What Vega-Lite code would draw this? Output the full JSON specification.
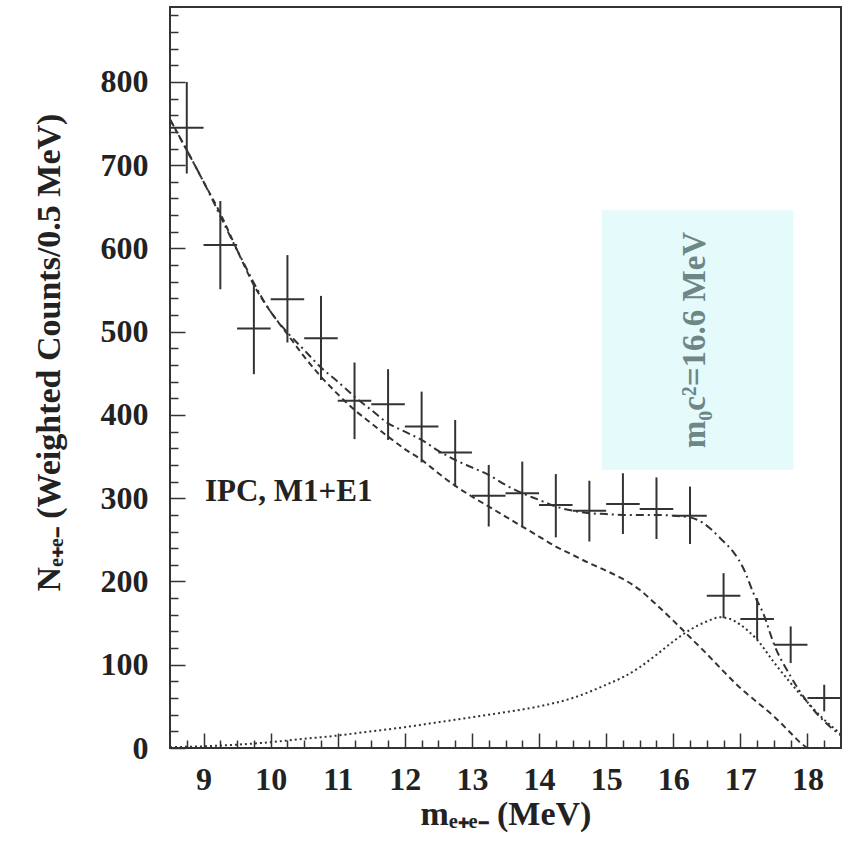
{
  "$schema": "https://vega.github.io/schema/vega-lite/v6.json",
  "width": 671,
  "height": 741,
  "autosize": {"type": "none"},
  "padding": {"left": 170, "top": 7, "right": 9, "bottom": 97},
  "background": "white",
  "config": {
    "view": {"stroke": "#333", "strokeWidth": 2},
    "font": "Liberation Serif",
    "axis": {
      "tickColor": "#333", "tickWidth": 1.5,
      "domain": false, "grid": false, "labelFlush": false,
      "labelFont": "Liberation Serif", "labelFontSize": 32, "labelFontWeight": "bold", "labelColor": "#222",
      "titleFont": "Liberation Serif", "titleFontSize": 34, "titleFontWeight": "bold", "titleColor": "#222"
    },
    "axisX": {"labelPadding": 31, "titlePadding": 2},
    "axisY": {"labelPadding": 37, "titlePadding": 34, "titleY": 345}
  },
  "datasets": {
    "points": [
      {"m": 8.75, "lo_m": 8.5, "hi_m": 9.0, "n": 745, "lo": 690, "hi": 800},
      {"m": 9.25, "lo_m": 9.0, "hi_m": 9.5, "n": 604, "lo": 551, "hi": 657},
      {"m": 9.75, "lo_m": 9.5, "hi_m": 10.0, "n": 504, "lo": 449, "hi": 558},
      {"m": 10.25, "lo_m": 10.0, "hi_m": 10.5, "n": 539, "lo": 487, "hi": 592},
      {"m": 10.75, "lo_m": 10.5, "hi_m": 11.0, "n": 492, "lo": 442, "hi": 543},
      {"m": 11.25, "lo_m": 11.0, "hi_m": 11.5, "n": 417, "lo": 371, "hi": 463},
      {"m": 11.75, "lo_m": 11.5, "hi_m": 12.0, "n": 413, "lo": 370, "hi": 455},
      {"m": 12.25, "lo_m": 12.0, "hi_m": 12.5, "n": 386, "lo": 343, "hi": 428},
      {"m": 12.75, "lo_m": 12.5, "hi_m": 13.0, "n": 355, "lo": 314, "hi": 394},
      {"m": 13.25, "lo_m": 13.0, "hi_m": 13.5, "n": 303, "lo": 266, "hi": 340},
      {"m": 13.75, "lo_m": 13.5, "hi_m": 14.0, "n": 306, "lo": 266, "hi": 344},
      {"m": 14.25, "lo_m": 14.0, "hi_m": 14.5, "n": 292, "lo": 253, "hi": 329},
      {"m": 14.75, "lo_m": 14.5, "hi_m": 15.0, "n": 285, "lo": 248, "hi": 321},
      {"m": 15.25, "lo_m": 15.0, "hi_m": 15.5, "n": 293, "lo": 257, "hi": 330},
      {"m": 15.75, "lo_m": 15.5, "hi_m": 16.0, "n": 287, "lo": 251, "hi": 325},
      {"m": 16.25, "lo_m": 16.0, "hi_m": 16.5, "n": 279, "lo": 245, "hi": 314},
      {"m": 16.75, "lo_m": 16.5, "hi_m": 17.0, "n": 183, "lo": 156, "hi": 210},
      {"m": 17.25, "lo_m": 17.0, "hi_m": 17.5, "n": 155, "lo": 130, "hi": 180},
      {"m": 17.75, "lo_m": 17.5, "hi_m": 18.0, "n": 124, "lo": 102, "hi": 146},
      {"m": 18.25, "lo_m": 18.0, "hi_m": 18.5, "n": 60, "lo": 44, "hi": 76}
    ],
    "curves": [
      {"s": "bg", "m": 8.5, "n": 755}, {"s": "bg", "m": 8.75, "n": 718}, {"s": "bg", "m": 9.0, "n": 680},
      {"s": "bg", "m": 9.25, "n": 642}, {"s": "bg", "m": 9.5, "n": 598}, {"s": "bg", "m": 9.75, "n": 556},
      {"s": "bg", "m": 10.0, "n": 524}, {"s": "bg", "m": 10.25, "n": 497}, {"s": "bg", "m": 10.5, "n": 470},
      {"s": "bg", "m": 10.75, "n": 446}, {"s": "bg", "m": 11.0, "n": 425}, {"s": "bg", "m": 11.25, "n": 406},
      {"s": "bg", "m": 11.5, "n": 390}, {"s": "bg", "m": 11.75, "n": 374}, {"s": "bg", "m": 12.0, "n": 359},
      {"s": "bg", "m": 12.25, "n": 346}, {"s": "bg", "m": 12.5, "n": 330}, {"s": "bg", "m": 12.75, "n": 315},
      {"s": "bg", "m": 13.0, "n": 302}, {"s": "bg", "m": 13.25, "n": 290}, {"s": "bg", "m": 13.5, "n": 278},
      {"s": "bg", "m": 13.75, "n": 266}, {"s": "bg", "m": 14.0, "n": 254}, {"s": "bg", "m": 14.25, "n": 242},
      {"s": "bg", "m": 14.5, "n": 232}, {"s": "bg", "m": 14.75, "n": 222}, {"s": "bg", "m": 15.0, "n": 213},
      {"s": "bg", "m": 15.25, "n": 203}, {"s": "bg", "m": 15.5, "n": 190}, {"s": "bg", "m": 15.75, "n": 172},
      {"s": "bg", "m": 16.0, "n": 153}, {"s": "bg", "m": 16.25, "n": 133}, {"s": "bg", "m": 16.5, "n": 113},
      {"s": "bg", "m": 16.75, "n": 92}, {"s": "bg", "m": 17.0, "n": 72}, {"s": "bg", "m": 17.25, "n": 55},
      {"s": "bg", "m": 17.5, "n": 38}, {"s": "bg", "m": 17.75, "n": 18}, {"s": "bg", "m": 17.9, "n": 6},
      {"s": "bg", "m": 18.0, "n": 0},
      {"s": "sig", "m": 8.5, "n": 1}, {"s": "sig", "m": 9.0, "n": 2}, {"s": "sig", "m": 9.5, "n": 4},
      {"s": "sig", "m": 10.0, "n": 7}, {"s": "sig", "m": 10.5, "n": 11}, {"s": "sig", "m": 11.0, "n": 15},
      {"s": "sig", "m": 11.5, "n": 20}, {"s": "sig", "m": 12.0, "n": 25}, {"s": "sig", "m": 12.5, "n": 31},
      {"s": "sig", "m": 13.0, "n": 37}, {"s": "sig", "m": 13.5, "n": 43}, {"s": "sig", "m": 14.0, "n": 50},
      {"s": "sig", "m": 14.5, "n": 60}, {"s": "sig", "m": 15.0, "n": 76}, {"s": "sig", "m": 15.25, "n": 85},
      {"s": "sig", "m": 15.5, "n": 97}, {"s": "sig", "m": 15.75, "n": 112}, {"s": "sig", "m": 16.0, "n": 128},
      {"s": "sig", "m": 16.25, "n": 142}, {"s": "sig", "m": 16.5, "n": 152}, {"s": "sig", "m": 16.7, "n": 157},
      {"s": "sig", "m": 16.85, "n": 155}, {"s": "sig", "m": 17.0, "n": 148}, {"s": "sig", "m": 17.25, "n": 130},
      {"s": "sig", "m": 17.5, "n": 103}, {"s": "sig", "m": 17.75, "n": 78}, {"s": "sig", "m": 18.0, "n": 55},
      {"s": "sig", "m": 18.25, "n": 34}, {"s": "sig", "m": 18.5, "n": 17},
      {"s": "sum", "m": 8.5, "n": 755}, {"s": "sum", "m": 9.0, "n": 680}, {"s": "sum", "m": 9.5, "n": 598},
      {"s": "sum", "m": 10.0, "n": 524}, {"s": "sum", "m": 10.25, "n": 499}, {"s": "sum", "m": 10.5, "n": 478},
      {"s": "sum", "m": 10.75, "n": 457}, {"s": "sum", "m": 11.0, "n": 440}, {"s": "sum", "m": 11.25, "n": 422},
      {"s": "sum", "m": 11.5, "n": 406}, {"s": "sum", "m": 11.75, "n": 390}, {"s": "sum", "m": 12.0, "n": 380},
      {"s": "sum", "m": 12.25, "n": 370}, {"s": "sum", "m": 12.5, "n": 357}, {"s": "sum", "m": 12.75, "n": 346},
      {"s": "sum", "m": 13.0, "n": 337}, {"s": "sum", "m": 13.25, "n": 328}, {"s": "sum", "m": 13.5, "n": 316},
      {"s": "sum", "m": 13.75, "n": 306}, {"s": "sum", "m": 14.0, "n": 298}, {"s": "sum", "m": 14.25, "n": 290},
      {"s": "sum", "m": 14.5, "n": 285}, {"s": "sum", "m": 14.75, "n": 282}, {"s": "sum", "m": 15.0, "n": 281},
      {"s": "sum", "m": 15.25, "n": 280}, {"s": "sum", "m": 15.5, "n": 280}, {"s": "sum", "m": 15.75, "n": 280},
      {"s": "sum", "m": 16.0, "n": 279}, {"s": "sum", "m": 16.25, "n": 277}, {"s": "sum", "m": 16.45, "n": 270},
      {"s": "sum", "m": 16.6, "n": 260}, {"s": "sum", "m": 16.75, "n": 248}, {"s": "sum", "m": 16.9, "n": 235},
      {"s": "sum", "m": 17.05, "n": 215}, {"s": "sum", "m": 17.2, "n": 185}, {"s": "sum", "m": 17.35, "n": 160},
      {"s": "sum", "m": 17.5, "n": 125}, {"s": "sum", "m": 17.75, "n": 86}, {"s": "sum", "m": 18.0, "n": 55},
      {"s": "sum", "m": 18.25, "n": 32}, {"s": "sum", "m": 18.5, "n": 15}
    ],
    "box": [{"m1": 14.93, "m2": 17.79, "n1": 334, "n2": 646, "mt": 16.33, "nt": 490, "label": "m₀c²=16.6 MeV"}],
    "notes": [{"m": 9.02, "n": 308, "label": "IPC, M1+E1"}]
  },
  "layer": [
    {
      "data": {"name": "box"},
      "mark": {"type": "rect", "color": "#e5fafb"},
      "encoding": {
        "x": {"field": "m1", "type": "quantitative", "scale": {"domain": [8.5, 18.5], "nice": false, "zero": false}, "title": "mₑ₊ₑ₋ (MeV)",
          "axis": {
            "values": [8.75, 9, 9.25, 9.5, 9.75, 10, 10.25, 10.5, 10.75, 11, 11.25, 11.5, 11.75, 12, 12.25, 12.5, 12.75, 13, 13.25, 13.5, 13.75, 14, 14.25, 14.5, 14.75, 15, 15.25, 15.5, 15.75, 16, 16.25, 16.5, 16.75, 17, 17.25, 17.5, 17.75, 18, 18.25],
            "labelExpr": "datum.value % 1 === 0 ? format(datum.value, 'd') : ''",
            "tickSize": {"condition": {"test": "datum.value % 1 === 0", "value": -15}, "value": -8}
          }},
        "x2": {"field": "m2"},
        "y": {"field": "n1", "type": "quantitative", "scale": {"domain": [0, 890], "nice": false}, "title": "Nₑ₊ₑ₋ (Weighted Counts/0.5 MeV)",
          "axis": {
            "values": [0, 20, 40, 60, 80, 100, 120, 140, 160, 180, 200, 220, 240, 260, 280, 300, 320, 340, 360, 380, 400, 420, 440, 460, 480, 500, 520, 540, 560, 580, 600, 620, 640, 660, 680, 700, 720, 740, 760, 780, 800, 820, 840, 860, 880],
            "labelExpr": "datum.value % 100 === 0 ? format(datum.value, 'd') : ''",
            "tickSize": {"condition": {"test": "datum.value % 100 === 0", "value": -15}, "value": -8}
          }},
        "y2": {"field": "n2"}
      }
    },
    {
      "data": {"name": "box"},
      "mark": {"type": "text", "angle": 270, "align": "center", "baseline": "middle", "font": "Liberation Serif", "fontSize": 33, "fontWeight": "bold", "color": "#6d8686"},
      "encoding": {
        "x": {"field": "mt", "type": "quantitative", "title": "mₑ₊ₑ₋ (MeV)",
          "axis": {
            "values": [8.75, 9, 9.25, 9.5, 9.75, 10, 10.25, 10.5, 10.75, 11, 11.25, 11.5, 11.75, 12, 12.25, 12.5, 12.75, 13, 13.25, 13.5, 13.75, 14, 14.25, 14.5, 14.75, 15, 15.25, 15.5, 15.75, 16, 16.25, 16.5, 16.75, 17, 17.25, 17.5, 17.75, 18, 18.25],
            "labelExpr": "datum.value % 1 === 0 ? format(datum.value, 'd') : ''",
            "tickSize": {"condition": {"test": "datum.value % 1 === 0", "value": -15}, "value": -8}
          }},
        "y": {"field": "nt", "type": "quantitative", "title": "Nₑ₊ₑ₋ (Weighted Counts/0.5 MeV)",
          "axis": {
            "values": [0, 20, 40, 60, 80, 100, 120, 140, 160, 180, 200, 220, 240, 260, 280, 300, 320, 340, 360, 380, 400, 420, 440, 460, 480, 500, 520, 540, 560, 580, 600, 620, 640, 660, 680, 700, 720, 740, 760, 780, 800, 820, 840, 860, 880],
            "labelExpr": "datum.value % 100 === 0 ? format(datum.value, 'd') : ''",
            "tickSize": {"condition": {"test": "datum.value % 100 === 0", "value": -15}, "value": -8}
          }},
        "text": {"field": "label"}
      }
    },
    {
      "data": {"name": "curves"},
      "mark": {"type": "line", "color": "#333", "strokeWidth": 2, "interpolate": "monotone", "clip": true},
      "encoding": {
        "x": {"field": "m", "type": "quantitative", "title": "mₑ₊ₑ₋ (MeV)",
          "axis": {
            "values": [8.75, 9, 9.25, 9.5, 9.75, 10, 10.25, 10.5, 10.75, 11, 11.25, 11.5, 11.75, 12, 12.25, 12.5, 12.75, 13, 13.25, 13.5, 13.75, 14, 14.25, 14.5, 14.75, 15, 15.25, 15.5, 15.75, 16, 16.25, 16.5, 16.75, 17, 17.25, 17.5, 17.75, 18, 18.25],
            "labelExpr": "datum.value % 1 === 0 ? format(datum.value, 'd') : ''",
            "tickSize": {"condition": {"test": "datum.value % 1 === 0", "value": -15}, "value": -8}
          }},
        "y": {"field": "n", "type": "quantitative", "title": "Nₑ₊ₑ₋ (Weighted Counts/0.5 MeV)",
          "axis": {
            "values": [0, 20, 40, 60, 80, 100, 120, 140, 160, 180, 200, 220, 240, 260, 280, 300, 320, 340, 360, 380, 400, 420, 440, 460, 480, 500, 520, 540, 560, 580, 600, 620, 640, 660, 680, 700, 720, 740, 760, 780, 800, 820, 840, 860, 880],
            "labelExpr": "datum.value % 100 === 0 ? format(datum.value, 'd') : ''",
            "tickSize": {"condition": {"test": "datum.value % 100 === 0", "value": -15}, "value": -8}
          }},
        "detail": {"field": "s"},
        "strokeDash": {"field": "s", "type": "nominal", "legend": null, "scale": {"domain": ["bg", "sig", "sum"], "range": [[6, 4], [2, 3], [8, 4, 2, 4]]}}
      }
    },
    {
      "data": {"name": "points"},
      "mark": {"type": "rule", "color": "#333", "strokeWidth": 2},
      "encoding": {
        "x": {"field": "m", "type": "quantitative", "title": "mₑ₊ₑ₋ (MeV)",
          "axis": {
            "values": [8.75, 9, 9.25, 9.5, 9.75, 10, 10.25, 10.5, 10.75, 11, 11.25, 11.5, 11.75, 12, 12.25, 12.5, 12.75, 13, 13.25, 13.5, 13.75, 14, 14.25, 14.5, 14.75, 15, 15.25, 15.5, 15.75, 16, 16.25, 16.5, 16.75, 17, 17.25, 17.5, 17.75, 18, 18.25],
            "labelExpr": "datum.value % 1 === 0 ? format(datum.value, 'd') : ''",
            "tickSize": {"condition": {"test": "datum.value % 1 === 0", "value": -15}, "value": -8}
          }},
        "y": {"field": "lo", "type": "quantitative", "title": "Nₑ₊ₑ₋ (Weighted Counts/0.5 MeV)",
          "axis": {
            "values": [0, 20, 40, 60, 80, 100, 120, 140, 160, 180, 200, 220, 240, 260, 280, 300, 320, 340, 360, 380, 400, 420, 440, 460, 480, 500, 520, 540, 560, 580, 600, 620, 640, 660, 680, 700, 720, 740, 760, 780, 800, 820, 840, 860, 880],
            "labelExpr": "datum.value % 100 === 0 ? format(datum.value, 'd') : ''",
            "tickSize": {"condition": {"test": "datum.value % 100 === 0", "value": -15}, "value": -8}
          }},
        "y2": {"field": "hi"}
      }
    },
    {
      "data": {"name": "points"},
      "mark": {"type": "rule", "color": "#333", "strokeWidth": 2},
      "encoding": {
        "x": {"field": "lo_m", "type": "quantitative", "title": "mₑ₊ₑ₋ (MeV)",
          "axis": {
            "values": [8.75, 9, 9.25, 9.5, 9.75, 10, 10.25, 10.5, 10.75, 11, 11.25, 11.5, 11.75, 12, 12.25, 12.5, 12.75, 13, 13.25, 13.5, 13.75, 14, 14.25, 14.5, 14.75, 15, 15.25, 15.5, 15.75, 16, 16.25, 16.5, 16.75, 17, 17.25, 17.5, 17.75, 18, 18.25],
            "labelExpr": "datum.value % 1 === 0 ? format(datum.value, 'd') : ''",
            "tickSize": {"condition": {"test": "datum.value % 1 === 0", "value": -15}, "value": -8}
          }},
        "x2": {"field": "hi_m"},
        "y": {"field": "n", "type": "quantitative", "title": "Nₑ₊ₑ₋ (Weighted Counts/0.5 MeV)",
          "axis": {
            "values": [0, 20, 40, 60, 80, 100, 120, 140, 160, 180, 200, 220, 240, 260, 280, 300, 320, 340, 360, 380, 400, 420, 440, 460, 480, 500, 520, 540, 560, 580, 600, 620, 640, 660, 680, 700, 720, 740, 760, 780, 800, 820, 840, 860, 880],
            "labelExpr": "datum.value % 100 === 0 ? format(datum.value, 'd') : ''",
            "tickSize": {"condition": {"test": "datum.value % 100 === 0", "value": -15}, "value": -8}
          }}
      }
    },
    {
      "data": {"name": "notes"},
      "mark": {"type": "text", "align": "left", "baseline": "middle", "font": "Liberation Serif", "fontSize": 31, "fontWeight": "bold", "color": "#222"},
      "encoding": {
        "x": {"field": "m", "type": "quantitative", "title": "mₑ₊ₑ₋ (MeV)",
          "axis": {
            "values": [8.75, 9, 9.25, 9.5, 9.75, 10, 10.25, 10.5, 10.75, 11, 11.25, 11.5, 11.75, 12, 12.25, 12.5, 12.75, 13, 13.25, 13.5, 13.75, 14, 14.25, 14.5, 14.75, 15, 15.25, 15.5, 15.75, 16, 16.25, 16.5, 16.75, 17, 17.25, 17.5, 17.75, 18, 18.25],
            "labelExpr": "datum.value % 1 === 0 ? format(datum.value, 'd') : ''",
            "tickSize": {"condition": {"test": "datum.value % 1 === 0", "value": -15}, "value": -8}
          }},
        "y": {"field": "n", "type": "quantitative", "title": "Nₑ₊ₑ₋ (Weighted Counts/0.5 MeV)",
          "axis": {
            "values": [0, 20, 40, 60, 80, 100, 120, 140, 160, 180, 200, 220, 240, 260, 280, 300, 320, 340, 360, 380, 400, 420, 440, 460, 480, 500, 520, 540, 560, 580, 600, 620, 640, 660, 680, 700, 720, 740, 760, 780, 800, 820, 840, 860, 880],
            "labelExpr": "datum.value % 100 === 0 ? format(datum.value, 'd') : ''",
            "tickSize": {"condition": {"test": "datum.value % 100 === 0", "value": -15}, "value": -8}
          }},
        "text": {"field": "label"}
      }
    }
  ]
}
